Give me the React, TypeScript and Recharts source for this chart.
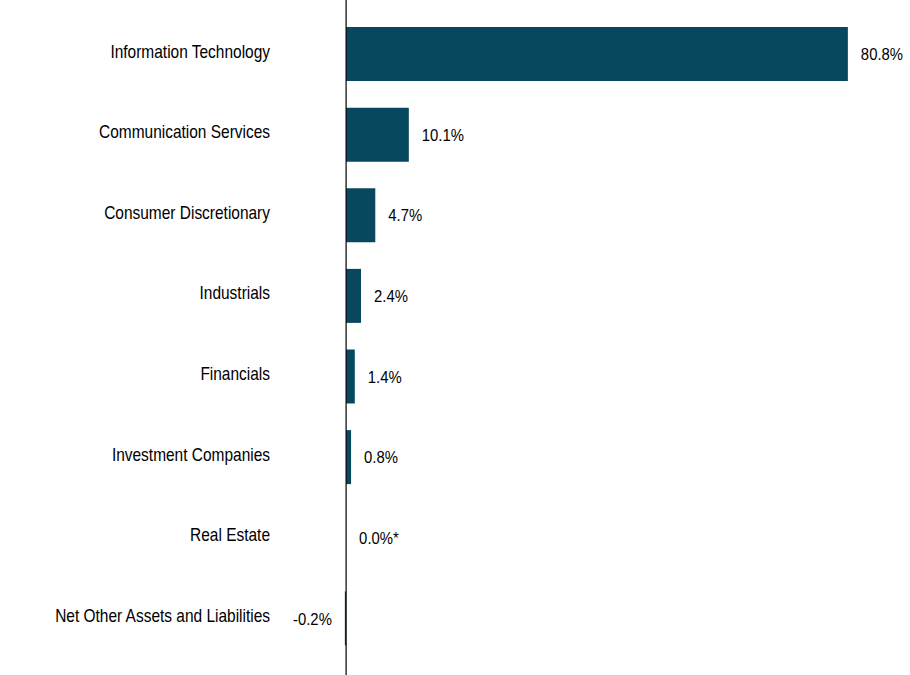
import React from 'react';
import { BarChart, Bar, XAxis, YAxis, ReferenceLine, LabelList } from 'recharts';

const categories = [
  'Information Technology',
  'Communication Services',
  'Consumer Discretionary',
  'Industrials',
  'Financials',
  'Investment Companies',
  'Real Estate',
  'Net Other Assets and Liabilities',
];
const values = [80.8, 10.1, 4.7, 2.4, 1.4, 0.8, 0.0, -0.2];
const valueLabels = ['80.8%', '10.1%', '4.7%', '2.4%', '1.4%', '0.8%', '0.0%*', '-0.2%'];

const data = categories.map((name, i) => ({ name, value: values[i], label: valueLabels[i] }));

const FONT = '"Liberation Sans", Arial, sans-serif';
const BAR_COLOR = '#08485E';

const CategoryTick = (props: any) => {
  const { x, y, payload } = props;
  return (
    <g transform={`translate(${x},${y})`}>
      <text
        transform="scale(0.86,1)"
        x={0}
        y={0}
        dy={3.3}
        textAnchor="end"
        fontFamily={FONT}
        fontSize={18}
        fill="#000"
      >
        {payload.value}
      </text>
    </g>
  );
};

const renderLabel = (props: any) => {
  const { x, y, width, height, value } = props;
  const text = String(value);
  const left = Math.min(x, x + width);
  const right = Math.max(x, x + width);
  const neg = text.startsWith('-');
  const tx = neg ? left - 13 : right + 13;
  return (
    <g transform={`translate(${tx},${y + height / 2})`}>
      <text
        transform="scale(0.875,1)"
        x={0}
        y={0}
        dy={6.2}
        textAnchor={neg ? 'end' : 'start'}
        fontFamily={FONT}
        fontSize={17}
        fill="#000"
      >
        {text}
      </text>
    </g>
  );
};

export default function App() {
  return (
    <div style={{ position: 'absolute', left: 0, top: 0, width: 910, height: 675, background: '#fff' }}>
      <BarChart
        width={910}
        height={675}
        data={data}
        layout="vertical"
        margin={{ top: 0, right: 5, bottom: 0, left: 0 }}
      >
        <XAxis type="number" domain={[-10, 90]} hide />
        <YAxis
          type="category"
          dataKey="name"
          width={284}
          axisLine={false}
          tickLine={false}
          tickMargin={8}
          padding={{ top: 14, bottom: 16 }}
          interval={0}
          tick={<CategoryTick />}
        />
        <ReferenceLine x={0} stroke="#000" strokeWidth={1.2} />
        <Bar dataKey="value" fill={BAR_COLOR} barSize={54} minPointSize={0.01} isAnimationActive={false}>
          <LabelList dataKey="label" content={renderLabel} />
        </Bar>
      </BarChart>
    </div>
  );
}
